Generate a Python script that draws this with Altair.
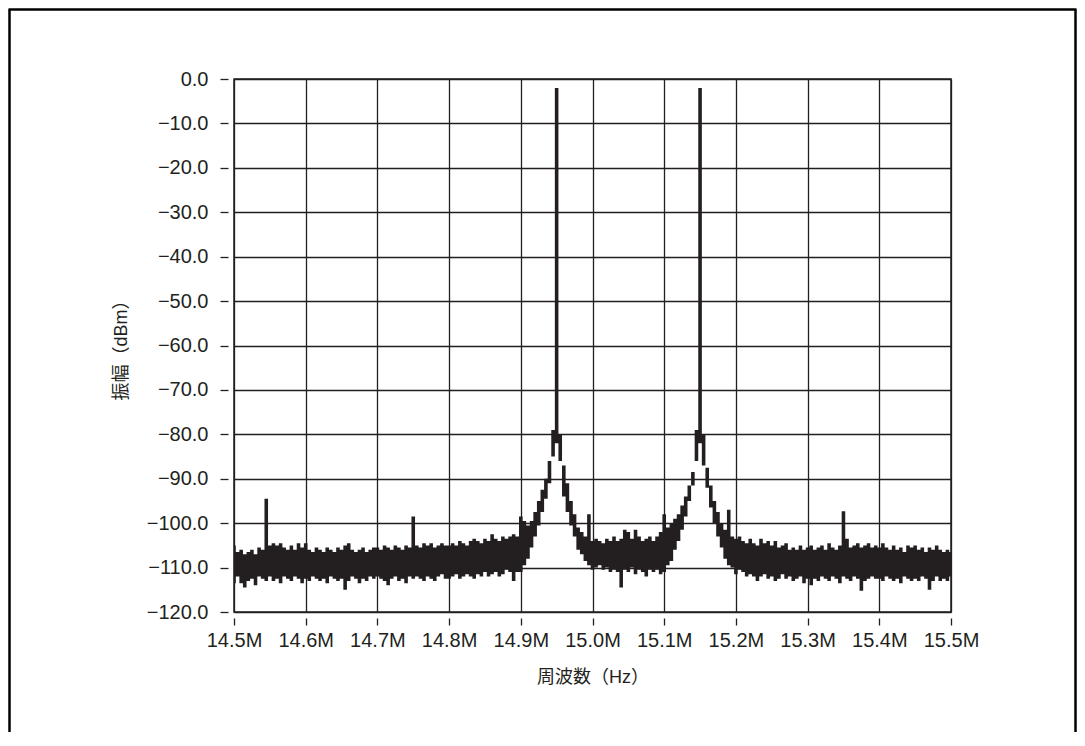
import altair as alt
import pandas as pd

INK = "#231f20"

# Spectrum: frequency bins 14.500 ... 15.500 MHz, 0.005 MHz apart.
# For each bin: upper and lower edge of the (dense) trace, in dBm.
FREQ_START = 14.5
FREQ_STEP = 0.005

upper_a = [-105, -106.5, -106, -107, -106.5, -106, -107, -105.5, -106, -94.5,
           -105, -104.5, -105, -104.5, -105.5, -106, -105, -106, -104.5, -105.5]
lower_a = [-113.5, -112, -113.5, -114.5, -113, -112.5, -114, -112, -112.5, -113,
           -112, -113, -112.5, -113.5, -112, -112.5, -113, -112, -112.5, -113.5]

upper_b = [-104.5, -106, -106.5, -105.5, -106, -106.5, -105.5, -106, -106.5, -105.5,
           -106, -105, -104.5, -106, -106.5, -106, -105.5, -106.5, -106, -105.5]
lower_b = [-112.5, -113, -112, -112.5, -113, -112.5, -113.5, -112, -112.5, -113,
           -112.5, -115, -113, -112, -112.5, -113.5, -112.5, -113, -112, -112.5]

upper_c = [-105.5, -106, -105, -105.5, -106, -105, -105.5, -106, -105, -105.5,
           -98.5, -105, -105.5, -104.5, -105, -104.5, -105.5, -105, -104.5, -105]
lower_c = [-112, -112.5, -113, -114, -112.5, -112, -113, -112.5, -113.5, -112,
           -112.5, -112, -112.5, -113, -112, -112.5, -113, -112, -111.5, -112.5]

upper_d = [-105, -104.5, -105, -104, -104.5, -105, -104, -103.5, -104, -104.5,
           -103.5, -104, -102.5, -103.5, -104, -103, -103.5, -103, -102.5, -103]
lower_d = [-112.5, -112, -111.5, -112.5, -112, -111.5, -112, -112.5, -111.5, -112,
           -111, -112, -111.5, -111, -112, -111.5, -110.5, -111, -113, -111]

upper_e = [-98.5, -99.5, -100.5, -99.5, -97.5, -95, -92.5, -90, -86, -79,
           -2, -80, -87, -91, -95, -98, -101, -102, -103, -98]
lower_e = [-111, -109.5, -108, -105.5, -103, -100.5, -97.5, -94.5, -91, -85,
           -82, -86, -94, -97.5, -100.5, -103, -106, -107, -108.5, -109.5]

upper_f = [-104, -103.5, -104, -104.5, -103.5, -104, -103, -104, -103.5, -101.5,
           -102, -103.5, -101.5, -103, -104, -103.5, -103, -104, -103, -102]
lower_f = [-110.5, -110, -109.5, -110.5, -110, -111, -110.5, -111, -114.5, -110.5,
           -111, -110, -111.5, -110.5, -111, -112, -110.5, -111, -110.5, -111.5]

upper_g = [-98, -101, -100, -99, -98, -96, -94, -91.5, -88.5, -79,
           -2, -80, -87.5, -91.5, -95, -97.5, -100, -101.5, -97, -103]
lower_g = [-111, -109.5, -108.5, -106, -104, -101.5, -98.5, -95, -91.5, -86,
           -82, -87, -92, -96.5, -100, -103, -105.5, -108, -109.5, -110]

upper_h = [-103.5, -103, -104, -104.5, -103.5, -104.5, -105, -103.5, -104.5, -104,
           -105, -104, -105.5, -105, -104.5, -106, -105.5, -106, -105, -106]
lower_h = [-111.5, -110.5, -111, -112, -111.5, -112, -113, -112, -111.5, -112.5,
           -112, -113, -112.5, -111.5, -112.5, -112, -113, -112.5, -112, -113.5]

upper_i = [-105.5, -105, -106, -105.5, -105, -106, -104.5, -105.5, -106, -105,
           -97.3, -103.5, -105.5, -105, -104.5, -105.5, -105, -104.5, -105.5, -105]
lower_i = [-112.5, -114, -112.5, -113, -112, -112.5, -113, -112, -112.5, -113.5,
           -112, -112.5, -113, -112, -112.5, -115.2, -113, -112.5, -112, -112.5]

upper_j = [-105.5, -104.5, -105.5, -106, -105, -106, -105.5, -106.5, -105, -105.5,
           -105, -106, -105.5, -106.5, -105.5, -106, -105, -106, -106.5, -106, -106.5]
lower_j = [-112.5, -113, -112, -112.5, -113, -112.5, -113.5, -112, -112.5, -113,
           -112.5, -113, -112, -112.5, -115, -113, -112, -113, -112.5, -113, -112]

x_ticks = [14.5, 14.6, 14.7, 14.8, 14.9, 15.0, 15.1, 15.2, 15.3, 15.4, 15.5]
y_ticks = [-120, -110, -100, -90, -80, -70, -60, -50, -40, -30, -20, -10, 0]

upper = upper_a + upper_b + upper_c + upper_d + upper_e + upper_f + upper_g + upper_h + upper_i + upper_j
lower = lower_a + lower_b + lower_c + lower_d + lower_e + lower_f + lower_g + lower_h + lower_i + lower_j
freq = [round(FREQ_START + FREQ_STEP * i, 3) for i in range(len(upper))]

df = pd.DataFrame({"f": freq, "hi": upper, "lo": lower})

W, H = 717, 533
LABEL_FONT = "Liberation Sans, Arial, Helvetica, sans-serif"
TITLE_FONT = "Liberation Sans, Noto Sans CJK JP, sans-serif"

band = alt.Chart(df).mark_area(interpolate="step", color=INK, opacity=1, clip=True).encode(
    x=alt.X("f:Q",
            scale=alt.Scale(domain=[14.5, 15.5], nice=False, zero=False),
            axis=alt.Axis(values=x_ticks,
                          labelExpr="format(datum.value, '.1f') + 'M'",
                          labelOverlap=False, labelFlush=False,
                          title="周波数（Hz）",
                          offset=6, tickSize=7, labelPadding=5, titlePadding=18)),
    y=alt.Y("hi:Q",
            scale=alt.Scale(domain=[-120, 0], nice=False, zero=False),
            axis=alt.Axis(values=y_ticks, format=".1f",
                          labelOverlap=False, labelFlush=False,
                          title="振幅（dBm）",
                          offset=6, tickSize=8, labelPadding=12, titlePadding=16)),
    y2="lo:Q",
)

frame_df = pd.DataFrame({"k": [0]})
frame_left = alt.Chart(frame_df).mark_rule(color="black", strokeWidth=2.5).encode(
    x=alt.value(-224.5), y=alt.value(-69.5), y2=alt.value(700))
frame_top = alt.Chart(frame_df).mark_rule(color="black", strokeWidth=2.5).encode(
    x=alt.value(-225.5), x2=alt.value(842.5), y=alt.value(-69.5))
frame_right = alt.Chart(frame_df).mark_rule(color="black", strokeWidth=2.5).encode(
    x=alt.value(841.5), y=alt.value(-69.5), y2=alt.value(700))

chart = alt.layer(band, frame_left, frame_top, frame_right).properties(
    width=W, height=H,
    autosize=alt.AutoSizeParams(type="none"),
    padding={"left": 226, "top": 71, "right": 126, "bottom": 120},
).configure_view(
    stroke=INK, strokeWidth=1.5,
).configure_axis(
    domain=False,
    grid=True, gridColor=INK, gridWidth=1.3, gridOpacity=1,
    tickColor=INK, tickWidth=1.3,
    labelFont=LABEL_FONT, labelFontSize=20, labelColor=INK,
    titleFont=TITLE_FONT, titleFontSize=18, titleColor=INK, titleFontWeight="normal",
)

chart.save("out.html", embed_options={"renderer": "svg", "actions": False})
